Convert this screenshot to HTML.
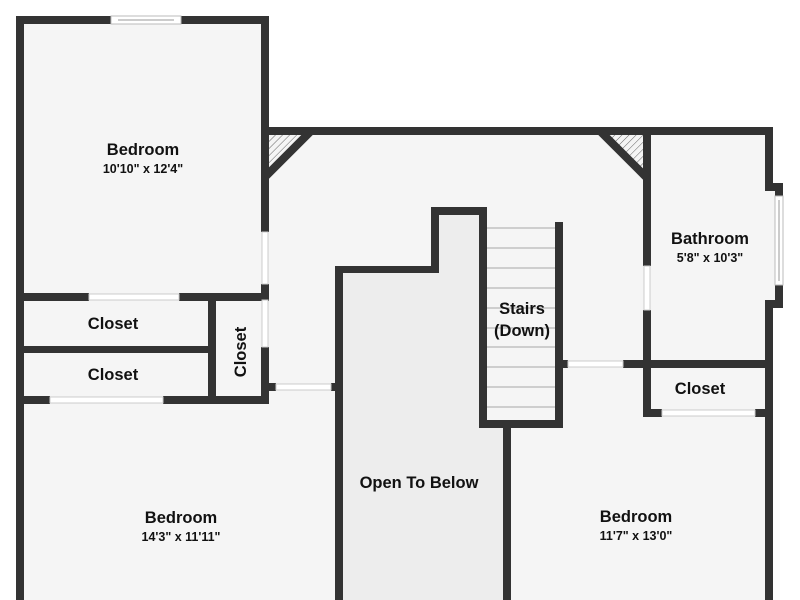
<!DOCTYPE html>
<html><head><meta charset="utf-8"><style>
html,body{margin:0;padding:0;background:#fff;}
svg{display:block;}
text{font-family:"Liberation Sans",sans-serif;font-weight:bold;fill:#111;text-anchor:middle;}
.t{font-size:16.5px;}
.d{font-size:12.5px;}
</style></head><body>
<svg width="800" height="600" viewBox="0 0 800 600" xmlns="http://www.w3.org/2000/svg">
<defs>
<pattern id="h" width="5" height="5" patternUnits="userSpaceOnUse" patternTransform="rotate(45)">
<rect width="5" height="5" fill="#f4f4f4"/><line x1="0" y1="0" x2="0" y2="5" stroke="#666" stroke-width="1"/>
</pattern>
</defs>
<!-- floors -->
<rect x="20" y="20" width="245" height="580" fill="#f5f5f5"/>
<rect x="265" y="131" width="504" height="469" fill="#f5f5f5"/>
<rect x="765" y="187" width="14" height="117" fill="#f5f5f5"/>
<polygon points="339,270 435,270 435,211 483,211 483,424 507,424 507,600 339,600" fill="#ededed"/>
<rect x="487" y="222" width="68" height="198" fill="#f5f5f5"/>
<!-- hatch triangles -->
<polygon points="269,135 305,135 269,171" fill="url(#h)"/>
<polygon points="606,135 643,135 643,172" fill="url(#h)"/>
<!-- stair lines -->
<g stroke="#b8b8b8" stroke-width="1.3">
<line x1="487" x2="555" y1="228" y2="228"/><line x1="487" x2="555" y1="248" y2="248"/>
<line x1="487" x2="555" y1="268" y2="268"/><line x1="487" x2="555" y1="288" y2="288"/>
<line x1="487" x2="555" y1="308" y2="308"/><line x1="487" x2="555" y1="328" y2="328"/>
<line x1="487" x2="555" y1="347" y2="347"/><line x1="487" x2="555" y1="367" y2="367"/>
<line x1="487" x2="555" y1="387" y2="387"/><line x1="487" x2="555" y1="407" y2="407"/>
</g>
<g fill="#333">
<!-- top-left bedroom -->
<rect x="16" y="16" width="95" height="8"/>
<rect x="181" y="16" width="88" height="8"/>
<rect x="16" y="16" width="8" height="584"/>
<rect x="261" y="16" width="8" height="216"/>
<rect x="261" y="284" width="8" height="16"/>
<rect x="16" y="293" width="73" height="8"/>
<rect x="179" y="293" width="90" height="8"/>
<!-- closets -->
<rect x="16" y="346" width="200" height="7"/>
<rect x="208" y="293" width="8" height="111"/>
<rect x="261" y="347" width="8" height="57"/>
<rect x="16" y="396" width="34" height="8"/>
<rect x="163" y="396" width="106" height="8"/>
<rect x="269" y="383" width="7" height="8"/>
<rect x="331" y="383" width="7" height="8"/>
<!-- hallway top -->
<rect x="261" y="127" width="511" height="8"/>
<!-- open to below -->
<rect x="335" y="266" width="8" height="334"/>
<rect x="335" y="266" width="104" height="7"/>
<rect x="431" y="207" width="8" height="66"/>
<rect x="431" y="207" width="56" height="8"/>
<rect x="479" y="207" width="8" height="221"/>
<rect x="555" y="222" width="8" height="206"/>
<rect x="479" y="420" width="84" height="8"/>
<rect x="503" y="428" width="8" height="172"/>
<!-- bathroom -->
<rect x="643" y="135" width="8" height="131"/>
<rect x="643" y="310" width="8" height="107"/>
<rect x="765" y="127" width="8" height="60"/>
<polygon points="765,183 783,183 783,196 775,196 775,191 765,191"/>
<polygon points="765,300 775,300 775,285 783,285 783,308 765,308"/>
<rect x="765" y="300" width="8" height="300"/>
<rect x="563" y="360" width="5" height="8"/>
<rect x="623" y="360" width="150" height="8"/>
<rect x="643" y="409" width="19" height="8"/>
<rect x="755" y="409" width="18" height="8"/>
</g>
<!-- diagonal walls -->
<line x1="311" y1="131" x2="265" y2="177" stroke="#333" stroke-width="8"/>
<line x1="600" y1="131" x2="647" y2="178" stroke="#333" stroke-width="8"/>
<!-- windows -->
<rect x="111" y="16" width="70" height="8" fill="#fff" stroke="#bbb" stroke-width="1"/>
<line x1="118" y1="20" x2="174" y2="20" stroke="#999"/>
<rect x="775" y="196" width="8" height="89" fill="#fff" stroke="#bbb" stroke-width="1"/>
<line x1="779" y1="200" x2="779" y2="281" stroke="#999"/>
<!-- doors gaps -->
<g fill="#fff" stroke="#ccc" stroke-width="1">
<rect x="89" y="294" width="90" height="6"/>
<rect x="262" y="232" width="6" height="52"/>
<rect x="262" y="300" width="6" height="47"/>
<rect x="50" y="397" width="113" height="6"/>
<rect x="276" y="384" width="55" height="6"/>
<rect x="644" y="266" width="6" height="44"/>
<rect x="568" y="361" width="55" height="6"/>
<rect x="662" y="410" width="93" height="6"/>
</g>
<!-- labels -->
<text class="t" x="143" y="155">Bedroom</text>
<text class="d" x="143" y="173">10'10" x 12'4"</text>
<text class="t" x="710" y="244">Bathroom</text>
<text class="d" x="710" y="262">5'8" x 10'3"</text>
<text class="t" x="522" y="314">Stairs</text>
<text class="t" x="522" y="336">(Down)</text>
<text class="t" x="113" y="329">Closet</text>
<text class="t" x="113" y="380">Closet</text>
<text class="t" transform="translate(246,352) rotate(-90)" x="0" y="0">Closet</text>
<text class="t" x="700" y="394">Closet</text>
<text class="t" x="181" y="523">Bedroom</text>
<text class="d" x="181" y="541">14'3" x 11'11"</text>
<text class="t" x="419" y="488">Open To Below</text>
<text class="t" x="636" y="522">Bedroom</text>
<text class="d" x="636" y="540">11'7" x 13'0"</text>
</svg>
</body></html>
